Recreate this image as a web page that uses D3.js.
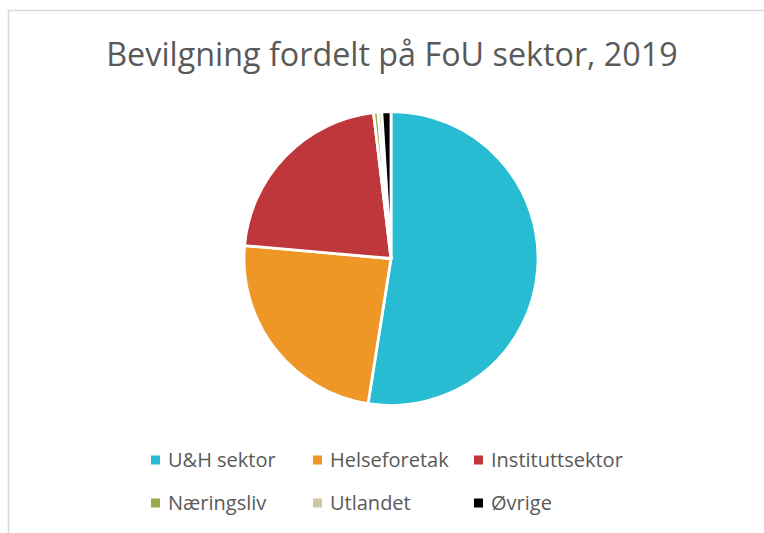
<!DOCTYPE html>
<html>
<head>
<meta charset="utf-8">
<script src="https://cdn.jsdelivr.net/npm/d3@7"></script>
<style>
  body { margin: 0; background: #fff; }
  svg { display: block; }
</style>
</head>
<body>
<svg id="chart" width="764" height="533"></svg>
<script>
// values (percent of total)
var sectors = ["U&H sektor", "Helseforetak", "Instituttsektor", "Næringsliv", "Utlandet", "Øvrige"];
var shares  = [52.5, 23.9, 21.7, 0.5, 0.4, 1.0];
var colors  = ["#27bcd1", "#ee9727", "#bf373b", "#9aab4f", "#d0c9a0", "#000000"];
var title = "Bevilgning fordelt på FoU sektor, 2019";

var W = 764, H = 533,
    cx = 391, cy = 258.5, R = 147,
    txt = "#595959",
    font = "'Open Sans', Lato, sans-serif";

var svg = d3.select("#chart");

// chart area frame (runs off the right/bottom edge)
svg.append("rect")
    .attr("x", 8.5).attr("y", 10.5)
    .attr("width", W + 20).attr("height", H + 20)
    .attr("fill", "#fff")
    .attr("stroke", "#d9d9d9")
    .attr("stroke-width", 1.5);

svg.append("text")
    .attr("x", cx + 1).attr("y", 66)
    .attr("text-anchor", "middle")
    .attr("font-family", font)
    .attr("font-size", 32.3)
    .attr("fill", txt)
    .text(title);

var data = sectors.map((s, i) => ({ name: s, v: shares[i], c: colors[i] }));

var pie = d3.pie().sort(null).value(d => d.v);
var arc = d3.arc().innerRadius(0).outerRadius(R);

svg.append("g")
    .attr("transform", "translate(" + cx + "," + cy + ")")
  .selectAll("path")
  .data(pie(data))
  .enter().append("path")
    .attr("d", arc)
    .attr("fill", d => d.data.c)
    .attr("stroke", "#fff")
    .attr("stroke-width", 2.8)
    .attr("stroke-linejoin", "round");

// legend, 3 per row
var colX = [151, 313, 474], rowY = [460, 503];
var leg = svg.append("g")
  .selectAll("g")
  .data(data)
  .enter().append("g")
    .attr("transform", (d, i) => "translate(" + colX[i % 3] + "," + rowY[Math.floor(i / 3)] + ")");
leg.append("rect")
    .attr("x", 0).attr("y", -4.5)
    .attr("width", 9).attr("height", 9)
    .attr("fill", d => d.c);
leg.append("text")
    .attr("x", 17).attr("y", 0)
    .attr("dy", "0.35em")
    .attr("font-family", font)
    .attr("font-size", 20)
    .attr("fill", txt)
    .text(d => d.name);
</script>
</body>
</html>
